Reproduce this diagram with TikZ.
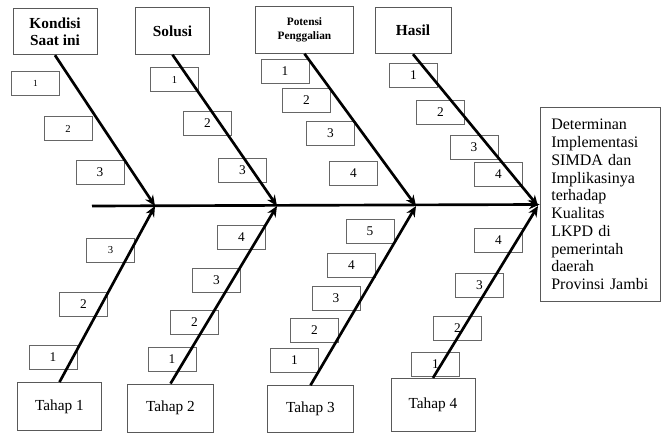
\documentclass[tikz,border=0pt]{standalone}
\usepackage{fontspec}
\setmainfont{Liberation Serif}
\usetikzlibrary{arrows.meta, positioning}

\begin{document}
\begin{tikzpicture}[
    x=0.75pt, y=-0.75pt,
    head/.style={rectangle, draw=black!65, line width=0.6pt, minimum width=#1, minimum height=35pt, inner sep=2pt, align=center, font=\fontsize{11.5}{12.5}\selectfont\bfseries},
    stage/.style={rectangle, draw=black!65, line width=0.6pt, minimum width=63pt, minimum height=36pt, inner sep=2pt, font=\fontsize{11.5}{13}\selectfont},
    item/.style={rectangle, draw=black!60, line width=0.6pt, minimum width=36pt, minimum height=18pt, inner sep=1pt, font=\fontsize{10}{11}\selectfont},
    bone/.style={-{Stealth[length=8pt, width=7pt]}, line width=2pt, draw=black}
]
    \useasboundingbox (0,0) rectangle (662,434);

    % Heads (top)
    \node[head=63pt] (kondisi) at (55,31.5) {Kondisi\\Saat ini};
    \node[head=56pt] (solusi) at (172.5,31) {Solusi};
    \node[head=73pt, font=\fontsize{8.5}{10.5}\selectfont\bfseries] (potensi) at (304.5,30) {Potensi\\Penggalian};
    \node[head=57pt] (hasil) at (413,30.5) {Hasil};

    % Stages (bottom)
    \node[stage] (tahap1) at (59.5,406.5) {Tahap 1};
    \node[stage, minimum width=64pt] (tahap2) at (170.5,408) {Tahap 2};
    \node[stage, minimum width=64pt, minimum height=35pt] (tahap3) at (310.5,409) {Tahap 3};
    \node[stage, minimum height=40pt] (tahap4) at (433,405) {Tahap 4};

    % Effect
    \node[rectangle, draw=black!65, line width=0.6pt, minimum width=90pt, minimum height=146pt, text width=73pt, inner xsep=8.5pt, align=left, font=\fontsize{12}{13.3}\selectfont] (effect) at (600,204.5)
        {Determinan\\Implementasi\\SIMDA dan\\Implikasinya\\terhadap\\Kualitas\\LKPD di\\pemerintah\\daerah\\Provinsi Jambi};

    % Items Kondisi Saat ini
    \node[item, font=\fontsize{7}{8}\selectfont] (k1) at (35.5,83) {1};
    \node[item, font=\fontsize{8}{9}\selectfont] (k2) at (68,128.5) {2};
    \node[item] (k3) at (100,172.5) {3};

    % Items Solusi
    \node[item, font=\fontsize{8}{9}\selectfont] (s1) at (174.5,79.5) {1};
    \node[item] (s2) at (207.5,123) {2};
    \node[item] (s3) at (242.5,170.5) {3};

    % Items Potensi Penggalian
    \node[item] (p1) at (285,71) {1};
    \node[item] (p2) at (306.5,100.5) {2};
    \node[item] (p3) at (330.5,133.5) {3};
    \node[item] (p4) at (353.5,173) {4};

    % Items Hasil
    \node[item] (h1) at (413.5,75) {1};
    \node[item] (h2) at (440.5,112) {2};
    \node[item] (h3) at (474,147) {3};
    \node[item] (h4) at (498.5,174.5) {4};

    % Items Tahap 1
    \node[item, font=\fontsize{8}{9}\selectfont] (a3) at (110.5,250.5) {3};
    \node[item] (a2) at (83.5,304.5) {2};
    \node[item] (a1) at (53,357) {1};

    % Items Tahap 2
    \node[item] (b4) at (241.5,237.5) {4};
    \node[item] (b3) at (216.5,280.5) {3};
    \node[item] (b2) at (194.5,322) {2};
    \node[item] (b1) at (172,359) {1};

    % Items Tahap 3
    \node[item] (c5) at (370,231.5) {5};
    \node[item] (c4) at (351.5,265.5) {4};
    \node[item] (c3) at (336,298.5) {3};
    \node[item] (c2) at (314.5,330.5) {2};
    \node[item] (c1) at (294.5,360.5) {1};

    % Items Tahap 4
    \node[item] (d4) at (498.5,240) {4};
    \node[item] (d3) at (479.5,285.5) {3};
    \node[item] (d2) at (457.5,328.5) {2};
    \node[item] (d1) at (435.5,364) {1};

    % Spine
    \coordinate (tail) at (92,206);
    \coordinate (j1) at (155,206);
    \coordinate (j2) at (277,206);
    \coordinate (j3) at (416,206);
    \coordinate (j4) at (538,206);
    \draw[bone] (tail) -- (effect.west);

    % Bones
    \draw[bone] (kondisi.south) -- (j1);
    \draw[bone] (solusi.south) -- (j2);
    \draw[bone] (potensi.south) -- (j3);
    \draw[bone] (hasil.south) -- (j4);
    \draw[bone] (tahap1.north) -- (j1);
    \draw[bone] (tahap2.north) -- (j2);
    \draw[bone] (tahap3.north) -- (j3);
    \draw[bone] (tahap4.north) -- (j4);

\end{tikzpicture}
\end{document}
